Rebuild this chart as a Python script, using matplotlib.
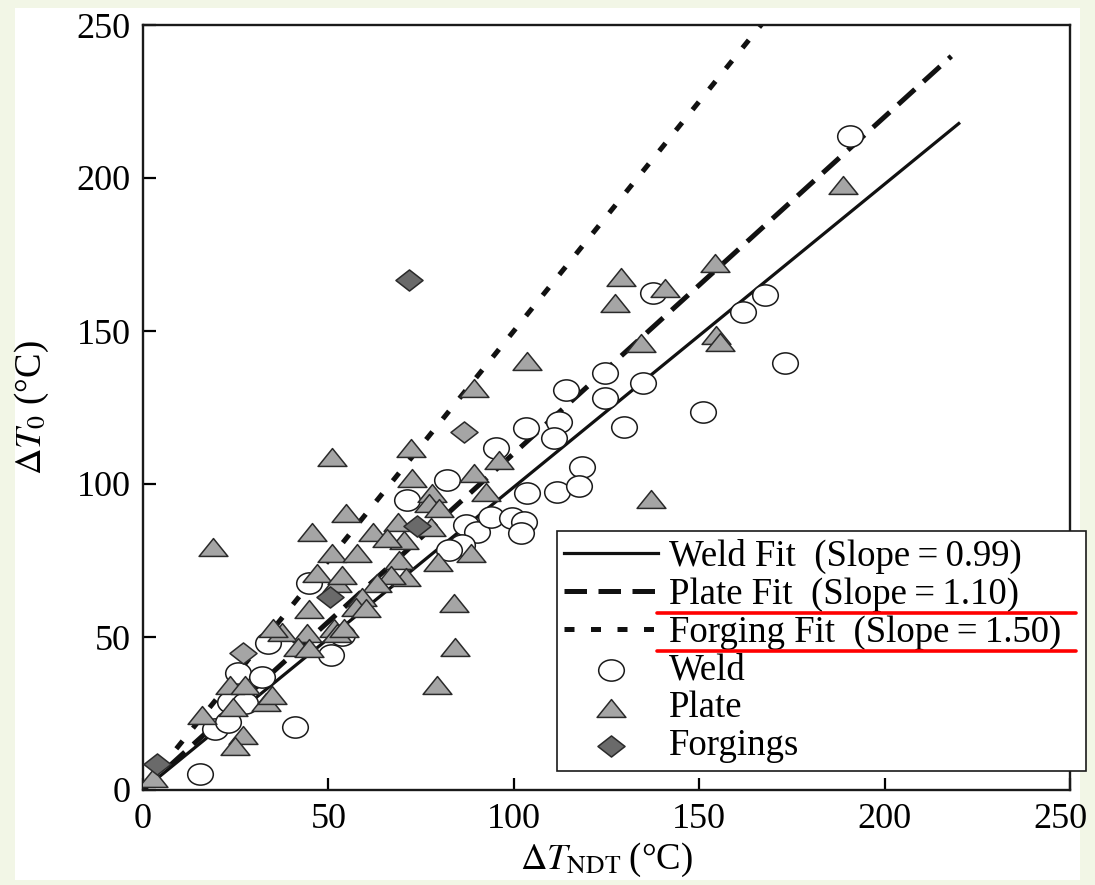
import numpy as np
import matplotlib
matplotlib.use("Agg")
import matplotlib.pyplot as plt
from matplotlib.path import Path
from matplotlib.patches import Rectangle
from matplotlib.lines import Line2D
from matplotlib.transforms import ScaledTranslation

plt.rcParams['font.family'] = ['Liberation Serif', 'DejaVu Serif']
plt.rcParams['mathtext.fontset'] = 'stix'

# data
weld_x = [15.3, 19.3, 40.9, 22.8, 23.4, 27.4, 25.5, 32.0, 33.6, 50.8, 53.8, 44.9,
          71.2, 82.0, 95.2, 103.2, 112.1, 110.8, 103.5, 111.6, 118.3, 117.7, 87.1,
          90.1, 93.8, 99.5, 102.7, 101.9, 86.0, 82.5, 137.6, 161.8, 167.7, 173.1,
          124.7, 134.9, 114.0, 124.5, 151.1, 129.8, 190.6]
weld_y = [5.3, 19.8, 20.7, 22.3, 28.8, 28.5, 38.3, 37.0, 48.1, 44.2, 50.7, 67.7,
          94.9, 101.4, 111.9, 118.4, 120.4, 115.1, 97.2, 97.5, 105.7, 99.5, 86.7,
          84.4, 89.3, 89.0, 87.7, 84.1, 80.2, 78.5, 162.5, 156.3, 161.9, 139.6,
          136.4, 133.1, 130.8, 128.2, 123.6, 118.7, 213.7]

plate_x = [89.2, 51.1, 18.8, 72.3, 72.6, 54.8, 45.7, 62.1, 68.8, 78.0, 77.2, 79.8,
           77.7, 89.2, 92.5, 96.0, 79.6, 88.4, 51.1, 57.8, 70.4, 69.1, 46.8, 52.2,
           53.8, 71.0, 66.9, 63.2, 59.1, 57.5, 60.2, 44.9, 83.9, 84.1, 79.3, 51.6,
           52.4, 44.1, 37.4, 35.0, 41.7, 44.9, 23.4, 27.4, 24.2, 33.3, 34.7, 15.9,
           26.9, 24.7, 2.7, 128.8, 127.2, 140.9, 154.3, 188.7, 134.4, 154.6, 155.6,
           103.5, 137.1, 65.9, 54.3]
plate_y = [131.4, 108.8, 79.4, 111.8, 102.0, 90.5, 84.3, 84.3, 87.6, 97.1, 93.8, 92.2,
           85.9, 103.6, 97.4, 107.8, 74.5, 77.5, 77.5, 77.5, 81.7, 75.2, 70.9, 67.6,
           70.3, 69.6, 70.3, 67.6, 63.1, 59.8, 59.5, 59.2, 61.1, 46.7, 34.3, 52.9,
           51.3, 51.3, 51.6, 52.9, 46.7, 46.4, 34.3, 34.3, 27.1, 28.8, 31.0, 24.5,
           18.0, 14.4, 3.9, 167.6, 159.2, 164.1, 172.2, 197.7, 146.1, 148.7, 146.4,
           140.2, 95.1, 82.4, 52.9]

forging_x = [3.8, 50.3, 73.9, 71.8]
forging_y = [8.5, 63.1, 86.3, 166.7]
# lighter diamonds in the figure
forging2_x = [86.6, 26.9]
forging2_y = [117.0, 44.8]

fit_names = ['Weld Fit\u2002(Slope\u2009=\u20090.99)',
             'Plate Fit\u2002(Slope\u2009=\u20091.10)',
             'Forging Fit\u2002(Slope\u2009=\u20091.50)']
fit_slopes = [0.99, 1.10, 1.50]
fit_xend = [220, 218, 220]

ticks = [0, 50, 100, 150, 200, 250]

# flattened marker shapes (the source image is stretched sideways)
circ = Path.unit_circle()
ellipse = Path(circ.vertices * [1.0, 0.83], circ.codes)
tri = Path([(0, 0.62), (-1, -0.62), (1, -0.62), (0, 0.62)],
           [Path.MOVETO, Path.LINETO, Path.LINETO, Path.CLOSEPOLY])
diamond = Path([(0, 0.78), (-1, 0), (0, -0.78), (1, 0), (0, 0.78)],
               [Path.MOVETO, Path.LINETO, Path.LINETO, Path.LINETO, Path.CLOSEPOLY])

fig = plt.figure(figsize=(10.95, 8.85), dpi=100, facecolor='#f2f6e6')
fig.patches.append(Rectangle((15 / 1095, 1 - 880 / 885), 1065 / 1095, 872 / 885,
                             transform=fig.transFigure, facecolor='white',
                             edgecolor='none', zorder=-10))
ax = fig.add_axes([143 / 1095, 1 - 790 / 885, 927 / 1095, 765 / 885])

styles = [dict(ls='-', lw=2.3),
          dict(ls=(0, (4.5, 2.3)), lw=3.6),
          dict(ls=(0, (2.0, 3.3)), lw=3.6)]
for name, k, xe, st in zip(fit_names, fit_slopes, fit_xend, styles):
    xs = np.array([0, xe])
    ax.plot(xs, k * xs, color='#111111', label=name, zorder=2, **st)

ax.scatter(weld_x, weld_y, s=340, marker=ellipse, facecolor='white',
           edgecolor='#1a1a1a', linewidths=1.1, label='Weld', zorder=3)
ax.scatter(plate_x, plate_y, s=430, marker=tri, facecolor='#a5a5a5',
           edgecolor='#2a2a2a', linewidths=1.1, label='Plate', zorder=4)
ax.scatter(forging2_x, forging2_y, s=380, marker=diamond, facecolor='#a5a5a5',
           edgecolor='#2a2a2a', linewidths=1.1, zorder=5)
ax.scatter(forging_x, forging_y, s=380, marker=diamond, facecolor='#6a6a6a',
           edgecolor='#2a2a2a', linewidths=1.1, label='Forgings', zorder=5)

ax.set_xlim(0, 250)
ax.set_ylim(0, 250)
ax.set_xticks(ticks)
ax.set_yticks(ticks)
ax.tick_params(direction='in', length=9, width=1.6, labelsize=26, pad=9,
               top=False, right=False)
for sp in ax.spines.values():
    sp.set_linewidth(1.7)
    sp.set_color('#1a1a1a')

# last x tick label sits a little left of the spine, as in the source
last = ax.get_xticklabels()[-1]
last.set_transform(last.get_transform() + ScaledTranslation(-7 / 72, 0, fig.dpi_scale_trans))

ax.set_xlabel(r'$\mathit{\Delta}T_{\mathrm{NDT}}$' + '\u2009(°C)', fontsize=26.5, labelpad=4)
ax.set_ylabel(r'$\mathit{\Delta}T_{0}$' + ' (°C)', fontsize=26.5, labelpad=18)

# legend box runs past the right spine in the source
leg = ax.legend(loc='upper left', bbox_to_anchor=(0.4466, 0.038, 0.571, 0.3),
                mode='expand', fontsize=26.5,
                frameon=True, fancybox=False, framealpha=1, edgecolor='#1a1a1a',
                handlelength=2.55, handletextpad=0.3, labelspacing=0.09,
                borderpad=0.2, borderaxespad=0)
leg.get_frame().set_linewidth(1.2)
leg.set_zorder(10)

# red underlines beneath two legend entries
fig.canvas.draw()
r = fig.canvas.get_renderer()
texts = leg.get_texts()
frame_bb = leg.get_frame().get_window_extent(r)
inv = fig.transFigure.inverted()
for t in texts[1:3]:
    bb = t.get_window_extent(r)
    yy = bb.y0 - 1
    p0 = inv.transform((bb.x0 - 12, yy))
    p1 = inv.transform((frame_bb.x1 - 10, yy))
    fig.lines.append(Line2D([p0[0], p1[0]], [p0[1], p1[1]], color='red', lw=2.6,
                            solid_capstyle='round', transform=fig.transFigure,
                            zorder=20))

fig.savefig('out.png', dpi=100, facecolor=fig.get_facecolor())
